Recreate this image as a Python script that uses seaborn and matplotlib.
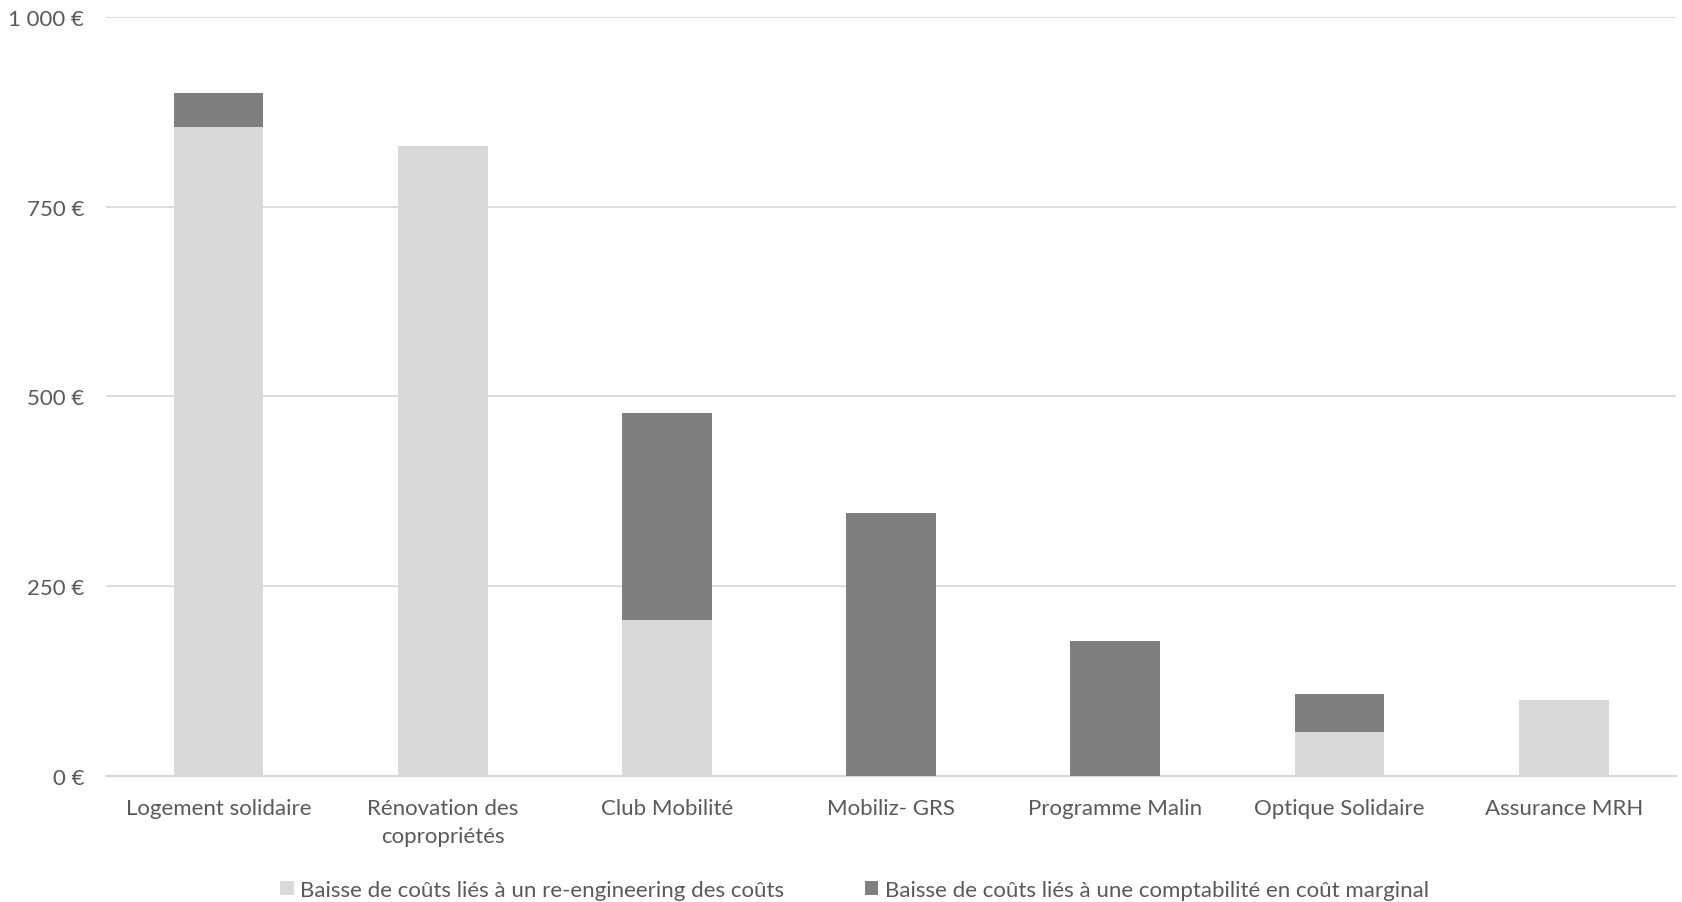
import matplotlib
matplotlib.use("Agg")
import matplotlib.pyplot as plt
import seaborn as sns
import pandas as pd
from matplotlib.patches import Patch
from matplotlib.ticker import FuncFormatter

categories = ["Logement solidaire", "Rénovation des\ncopropriétés", "Club Mobilité",
              "Mobiliz- GRS", "Programme Malin", "Optique Solidaire", "Assurance MRH"]
reengineering = [855, 830, 205, 0, 0, 57, 100]
marginal = [45, 0, 273, 346, 178, 50, 0]
series_names = ["Baisse de coûts liés à un re-engineering des coûts",
                "Baisse de coûts liés à une comptabilité en coût marginal"]
yticks = [0, 250, 500, 750, 1000]

LIGHT = "#d9d9d9"
DARK = "#7f7f7f"
TXT = "#595959"
FS = 16

sns.set_theme(style="white")
plt.rcParams["font.family"] = ["Lato", "DejaVu Sans"]

df = pd.DataFrame({"cat": categories, "light": reengineering, "dark": marginal})
df["total"] = df["light"] + df["dark"]

fig = plt.figure(figsize=(16.83, 9.03), dpi=100)
ax = fig.add_axes([0.0632, 0.140, 0.9325, 0.840])

sns.barplot(data=df, x="cat", y="total", color=DARK, width=0.4, saturation=1, ax=ax,
            zorder=3, linewidth=0, edgecolor="none")
sns.barplot(data=df, x="cat", y="light", color=LIGHT, width=0.4, saturation=1, ax=ax,
            zorder=4, linewidth=0, edgecolor="none")

ax.set_xlim(-0.5, len(categories) - 0.5)
ax.set_ylim(0, 1000)
ax.set_yticks(yticks)
ax.yaxis.set_major_formatter(FuncFormatter(lambda v, p: f"{int(v):,} €".replace(",", " ")))
ax.grid(axis="y", color=LIGHT, linewidth=1.3, zorder=0)
ax.set_axisbelow(True)
for s in ["left", "right", "top"]:
    ax.spines[s].set_visible(False)
ax.spines["bottom"].set_color(LIGHT)
ax.spines["bottom"].set_linewidth(1.5)
ax.set_xlabel("")
ax.set_ylabel("")
ax.tick_params(axis="both", length=0, labelsize=FS, colors=TXT)
ax.tick_params(axis="x", pad=16)
ax.tick_params(axis="y", pad=16)
for lbl in ax.get_xticklabels():
    lbl.set_linespacing(1.5)

handles = [Patch(facecolor=LIGHT, edgecolor="none", label=series_names[0]),
           Patch(facecolor=DARK, edgecolor="none", label=series_names[1])]
fig.legend(handles=handles, loc="center", bbox_to_anchor=(0.5077, 1 - 891 / 903), ncol=2,
           frameon=False, fontsize=FS, labelcolor=TXT, handlelength=0.6, handleheight=0.6,
           handletextpad=0.3, columnspacing=3.6)

fig.savefig("out.png", dpi=100)
